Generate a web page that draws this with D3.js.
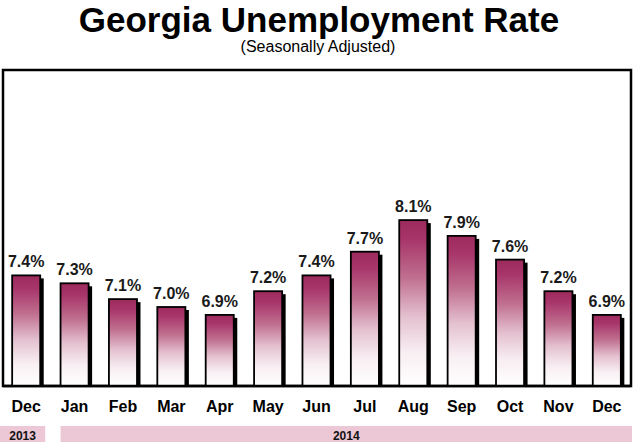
<!DOCTYPE html>
<html>
<head>
<meta charset="utf-8">
<script src="https://cdn.jsdelivr.net/npm/d3@7"></script>
<style>
  html, body { margin: 0; padding: 0; background: #fff; }
  svg { display: block; font-family: "Liberation Sans", Arial, Helvetica, sans-serif; }
</style>
</head>
<body>
<svg id="chart" width="634" height="442"></svg>
<script>
const months = ["Dec", "Jan", "Feb", "Mar", "Apr", "May", "Jun", "Jul", "Aug", "Sep", "Oct", "Nov", "Dec"];
const rates = [7.4, 7.3, 7.1, 7.0, 6.9, 7.2, 7.4, 7.7, 8.1, 7.9, 7.6, 7.2, 6.9];
const yearLabels = ["2013", "2014"];
const yearSpans = [[0, 0], [1, 12]];
const titleText = "Georgia Unemployment Rate";
const subtitleText = "(Seasonally Adjusted)";

const W = 634, H = 442;
const frame = { left: 3, right: 631, top: 70, bottom: 386 };

const svg = d3.select("#chart");

const defs = svg.append("defs");
const grad = defs.append("linearGradient")
  .attr("id", "barGrad").attr("x1", 0).attr("y1", 0).attr("x2", 0).attr("y2", 1);
[[0, "#9c2a5c"], [0.12, "#a8366b"], [0.35, "#c0708f"], [0.58, "#e4c0cf"], [0.8, "#f8eff3"], [1, "#ffffff"]]
  .forEach(([o, c]) => grad.append("stop").attr("offset", o).attr("stop-color", c));

const idx = months.map((m, i) => i);
const x = d3.scaleBand().domain(idx).range([2, 631]).paddingInner(0.42).paddingOuter(0.21);
const y = d3.scaleLinear().domain([6, 10]).range([frame.bottom, frame.top]);

// Title
svg.append("text").attr("x", 319).attr("y", 32).attr("text-anchor", "middle")
  .attr("font-size", 35).attr("font-weight", "bold").attr("fill", "#000").text(titleText);
svg.append("text").attr("x", 318).attr("y", 52).attr("text-anchor", "middle")
  .attr("font-size", 16).attr("fill", "#000").text(subtitleText);

// Frame
svg.append("rect").attr("x", frame.left).attr("y", frame.top)
  .attr("width", frame.right - frame.left).attr("height", frame.bottom - frame.top)
  .attr("fill", "none").attr("stroke", "#000").attr("stroke-width", 2.5);

// Bar shadows
svg.append("g").selectAll("rect").data(rates).join("rect")
  .attr("x", (d, i) => x(i) + 3.5)
  .attr("y", d => y(d) + 3)
  .attr("width", x.bandwidth())
  .attr("height", d => frame.bottom - y(d) - 3)
  .attr("fill", "#000");

// Bars
svg.append("g").selectAll("rect").data(rates).join("rect")
  .attr("x", (d, i) => x(i))
  .attr("y", d => y(d))
  .attr("width", x.bandwidth())
  .attr("height", d => frame.bottom - y(d))
  .attr("fill", "url(#barGrad)")
  .attr("stroke", "#000").attr("stroke-width", 1.8);

// Baseline
svg.append("line").attr("x1", frame.left).attr("x2", frame.right)
  .attr("y1", frame.bottom).attr("y2", frame.bottom)
  .attr("stroke", "#000").attr("stroke-width", 2.5);

// Value labels
svg.append("g").selectAll("text").data(rates).join("text")
  .attr("x", (d, i) => x(i) + x.bandwidth() / 2)
  .attr("y", d => y(d) - 8)
  .attr("text-anchor", "middle")
  .attr("font-size", 16).attr("font-weight", "bold").attr("fill", "#1a1a1a")
  .text(d => d.toFixed(1) + "%");

// Month axis labels
const xAxis = d3.axisBottom(x).tickFormat(i => months[i]).tickSize(0).tickPadding(0);
const ax = svg.append("g").attr("transform", `translate(0, ${frame.bottom})`).call(xAxis);
ax.select(".domain").remove();
ax.selectAll("text").attr("dy", 0).attr("y", 26)
  .attr("font-size", 16).attr("font-weight", "bold").attr("fill", "#000")
  .attr("font-family", "'Liberation Sans', Arial, sans-serif");

// Year bands
const yearG = svg.append("g");
yearSpans.forEach((s, k) => {
  const x0 = k === 0 ? 0 : x(s[0]);
  const x1 = k === 0 ? x(s[1]) + x.bandwidth() + 5 : frame.right + 1;
  yearG.append("rect").attr("x", x0).attr("y", 426).attr("width", x1 - x0).attr("height", H - 426)
    .attr("fill", "#ecc8d6");
  yearG.append("text").attr("x", (x0 + x1) / 2).attr("y", 440).attr("text-anchor", "middle")
    .attr("font-size", 12).attr("font-weight", "bold").attr("fill", "#111").text(yearLabels[k]);
});
</script>
</body>
</html>
